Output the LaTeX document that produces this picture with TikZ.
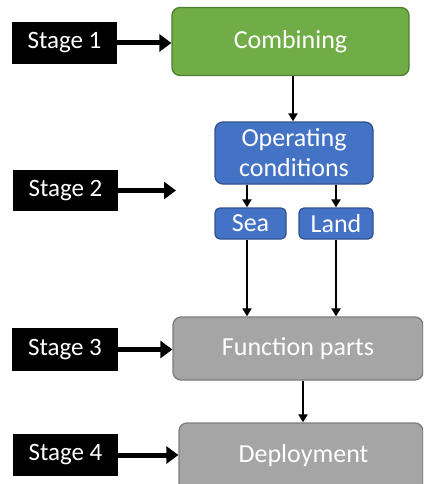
\documentclass[tikz,border=0pt]{standalone}
\usepackage{fontspec}
\setmainfont{Carlito}
\usetikzlibrary{arrows.meta}
\definecolor{gfill}{HTML}{70AD47}
\definecolor{gdraw}{HTML}{507E32}
\definecolor{bfill}{HTML}{4472C4}
\definecolor{bdraw}{HTML}{2F528F}
\definecolor{afill}{HTML}{A5A5A5}
\definecolor{adraw}{HTML}{7C7C7C}
\tikzset{
  stagebox/.style={fill=black, text=white, inner sep=0pt, font=\fontsize{25}{27}\selectfont},
  procbox/.style={rounded corners=8pt, line width=1.3pt, text=white, inner sep=0pt, align=center, font=\fontsize{26}{30}\selectfont},
  bigarrow/.style={line width=5pt, -{Triangle[length=12pt,width=17pt]}},
  smallarrow/.style={line width=2.2pt, -{Triangle[length=8pt,width=9pt]}},
}
\begin{document}
\begin{tikzpicture}[x=1pt,y=-1pt]
\clip (0,0) rectangle (423,484);
% stage labels
\node[stagebox, minimum width=105pt, minimum height=42pt] (s1) at (64.5,43) {Stage 1};
\node[stagebox, minimum width=105pt, minimum height=41pt] (s2) at (65.5,190.5) {Stage 2};
\node[stagebox, minimum width=106pt, minimum height=43pt] (s3) at (65,349.5) {Stage 3};
\node[stagebox, minimum width=105pt, minimum height=42pt] (s4) at (65.5,455) {Stage 4};
% process boxes
\node[procbox, fill=gfill, draw=gdraw, minimum width=237pt, minimum height=68pt] (comb) at (290.5,41.5) {Combining};
\node[procbox, fill=bfill, draw=bdraw, minimum width=158pt, minimum height=62pt] (op) at (294,153) {Operating\\conditions};
\node[procbox, fill=bfill, draw=bdraw, minimum width=71pt, minimum height=31pt, rounded corners=5pt] (sea) at (250.5,223.5) {Sea};
\node[procbox, fill=bfill, draw=bdraw, minimum width=74pt, minimum height=31pt, rounded corners=5pt] (land) at (336,223.5) {Land};
\node[procbox, fill=afill, draw=adraw, minimum width=250pt, minimum height=63pt] (func) at (298,348.5) {Function parts};
\node[procbox, fill=afill, draw=adraw, minimum width=244pt, minimum height=70pt] (dep) at (301,458) {};
\node[text=white, font=\fontsize{26}{30}\selectfont, inner sep=0pt] (deplabel) at (303.5,456) {Deployment};
% stage arrows
\coordinate (a2) at (176,190.5);
\draw[bigarrow] (s1.east) -- (s1.east -| comb.west);
\draw[bigarrow] (s2.east) -- (a2);
\draw[bigarrow] (s3.east) -- (s3.east -| func.west);
\draw[bigarrow] (s4.east) -- (s4.east -| dep.west);
% flow arrows
\draw[smallarrow] (comb.south -| 293,0) -- (op.north -| 293,0);
\draw[smallarrow] (op.south -| 247,0) -- (sea.north -| 247,0);
\draw[smallarrow] (op.south -| 336,0) -- (land.north -| 336,0);
\draw[smallarrow] (sea.south -| 247,0) -- (func.north -| 247,0);
\draw[smallarrow] (land.south -| 336,0) -- (func.north -| 336,0);
\draw[smallarrow] (func.south -| 303,0) -- (dep.north -| 303,0);
\end{tikzpicture}
\end{document}
